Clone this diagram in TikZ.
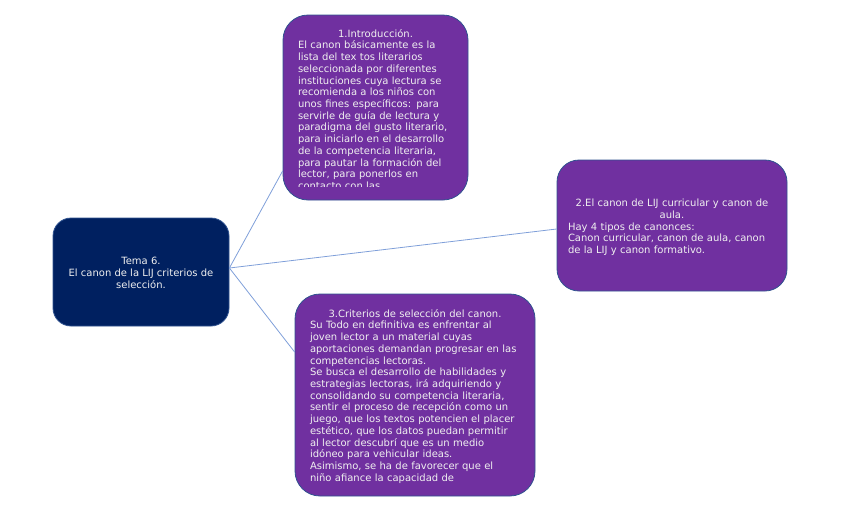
\documentclass[tikz,border=0pt]{standalone}
\usepackage{fontspec}
\setmainfont{DejaVu Sans}
\definecolor{mapnavy}{HTML}{002060}
\definecolor{mappurple}{HTML}{7030A0}
\definecolor{mapedge}{HTML}{2F528F}
\definecolor{maplink}{HTML}{7F9FD9}
\begin{document}
\begin{tikzpicture}[x=1pt, y=-1pt,
  mainbox/.style={rectangle, draw=mapedge, line width=0.8pt, rounded corners=18pt,
    fill=mapnavy, inner sep=0pt},
  topicbox/.style={rectangle, draw=mapedge, line width=0.8pt, rounded corners=25pt,
    fill=mappurple, inner sep=0pt},
  boxtext/.style={inner sep=0pt, text=white!94!black, align=left,
    font=\fontsize{10}{11.72}\selectfont},
  link/.style={draw=maplink, line width=0.8pt},
]
\useasboundingbox (0,0) rectangle (848,515);

% ============================================================
% Boxes
% ============================================================
\node[mainbox, minimum width=176, minimum height=108] (tema) at (141,272) {};
\node[topicbox, minimum width=185, minimum height=185] (intro) at (375.5,107.5) {};
\node[topicbox, rounded corners=22pt, minimum width=230, minimum height=131] (curricular) at (672,225.5) {};
\node[topicbox, minimum width=240, minimum height=202] (criterios) at (415,395) {};

% ============================================================
% Texts
% ============================================================
\node[boxtext, align=center] (tematext) at (141,273)
  {Tema 6.\\El canon de la LIJ criterios de\\selección.};

% intro text runs past the box, cut off at the bottom
\begin{scope}
\clip (283,15) rectangle (468,186.5);
\node[boxtext, text width=155, anchor=north] (introtext) at (375.5,29)
  {\makebox[\linewidth][c]{1.Introducción.}\\
   El canon básicamente es la\\
   lista del tex tos literarios\\
   seleccionada por diferentes\\
   instituciones cuya lectura se\\
   recomienda a los niños con\\
   unos fines específicos: para\\
   servirle de guía de lectura y\\
   paradigma del gusto literario,\\
   para iniciarlo en el desarrollo\\
   de la competencia literaria,\\
   para pautar la formación del\\
   lector, para ponerlos en\\
   contacto con las};
\end{scope}

\node[boxtext, text width=208] (curriculartext) at (672,227.5)
  {\makebox[\linewidth][c]{2.El canon de LIJ curricular y canon de}\\
   \makebox[\linewidth][c]{aula.}\\
   Hay 4 tipos de canonces:\\
   Canon curricular, canon de aula, canon\\
   de la LIJ y canon formativo.};

\node[boxtext, text width=210, anchor=north] (criteriostext) at (415,309)
  {\makebox[\linewidth][c]{3.Criterios de selección del canon.}\\
   Su Todo en definitiva es enfrentar al\\
   joven lector a un material cuyas\\
   aportaciones demandan progresar en las\\
   competencias lectoras.\\
   Se busca el desarrollo de habilidades y\\
   estrategias lectoras, irá adquiriendo y\\
   consolidando su competencia literaria,\\
   sentir el proceso de recepción como un\\
   juego, que los textos potencien el placer\\
   estético, que los datos puedan permitir\\
   al lector descubrí que es un medio\\
   idóneo para vehicular ideas.\\
   Asimismo, se ha de favorecer que el\\
   niño afiance la capacidad de};

% ============================================================
% Links
% ============================================================
\coordinate (hub) at ([yshift=4pt]tema.east);
\draw[link] (hub) -- ([yshift=-63.5pt]intro.west);
\draw[link] (hub) -- ([yshift=-3.5pt]curricular.west);
\draw[link] (hub) -- ([yshift=43pt]criterios.west);

\end{tikzpicture}
\end{document}
